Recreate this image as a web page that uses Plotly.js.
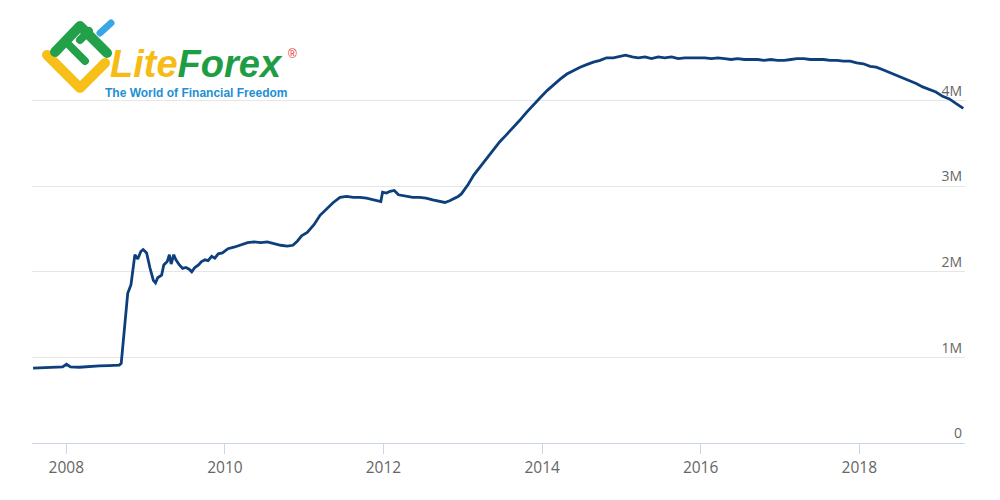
<!DOCTYPE html>
<html>
<head>
<meta charset="utf-8">
<script src="https://cdn.plot.ly/plotly-3.0.1.min.js"></script>
<style>html,body{margin:0;padding:0;background:#fff;}#chart{width:1000px;height:500px;}</style>
</head>
<body>
<div id="chart"></div>
<script>
// Federal Reserve total assets (M)
const dates = [
'2007-08-01','2007-09-15','2007-11-01','2007-12-15','2008-01-02','2008-01-20','2008-03-01','2008-04-15','2008-06-01','2008-07-15',
'2008-09-01','2008-09-10','2008-09-20','2008-10-01','2008-10-10','2008-10-25','2008-11-05','2008-11-12','2008-11-25','2008-12-10',
'2008-12-20','2009-01-05','2009-01-20','2009-02-05','2009-02-15','2009-02-25','2009-03-15','2009-03-25','2009-04-10','2009-04-20',
'2009-04-28','2009-05-10','2009-05-20','2009-06-05','2009-06-20','2009-07-05','2009-07-20','2009-08-01','2009-08-15','2009-09-01',
'2009-09-15','2009-10-01','2009-10-15','2009-11-01','2009-11-15','2009-12-01','2009-12-20','2010-01-15','2010-02-15','2010-03-15',
'2010-04-15','2010-05-15','2010-06-15','2010-07-15','2010-08-15','2010-09-15','2010-10-15','2010-11-10','2010-12-01','2010-12-20',
'2011-01-15','2011-02-15','2011-03-15','2011-04-15','2011-05-15','2011-06-15','2011-07-15','2011-08-15','2011-09-15','2011-10-15',
'2011-11-15','2011-12-05','2011-12-20','2011-12-28','2012-01-15','2012-02-01','2012-02-20','2012-03-10','2012-04-15','2012-05-15',
'2012-06-15','2012-07-15','2012-08-15','2012-09-15','2012-10-10','2012-11-01','2012-11-20','2012-12-10','2012-12-25','2013-01-25',
'2013-02-20','2013-03-25','2013-04-20','2013-05-20','2013-06-20','2013-07-20','2013-08-20','2013-09-20','2013-10-20','2013-11-20',
'2013-12-25','2014-01-25','2014-02-25','2014-03-25','2014-04-25','2014-05-25','2014-06-25','2014-07-25','2014-08-25','2014-09-25',
'2014-10-25','2014-11-25','2014-12-25','2015-01-20','2015-02-20','2015-03-20','2015-04-20','2015-05-20','2015-06-20','2015-07-20',
'2015-08-20','2015-09-20','2015-10-20','2015-11-20','2015-12-20','2016-01-20','2016-02-20','2016-03-20','2016-04-20','2016-05-20',
'2016-06-20','2016-07-20','2016-08-20','2016-09-20','2016-10-20','2016-11-20','2016-12-20','2017-01-20','2017-02-20','2017-03-20',
'2017-04-20','2017-05-20','2017-06-20','2017-07-20','2017-08-20','2017-09-20','2017-10-20','2017-11-20','2017-12-20','2018-01-20',
'2018-02-20','2018-03-20','2018-04-20','2018-05-20','2018-06-20','2018-07-20','2018-08-20','2018-09-20','2018-10-20','2018-11-20',
'2018-12-20','2019-01-20','2019-02-20','2019-03-20','2019-04-25'
];
const assets = [
0.875,0.88,0.89,0.89,0.92,0.89,0.885,0.895,0.90,0.905,
0.91,0.93,1.20,1.50,1.75,1.85,2.05,2.20,2.15,2.24,
2.26,2.22,2.05,1.90,1.87,1.93,1.96,2.08,2.12,2.20,
2.09,2.20,2.14,2.08,2.04,2.05,2.03,2.00,2.05,2.08,
2.12,2.14,2.13,2.18,2.16,2.21,2.22,2.27,2.29,2.31,
2.34,2.35,2.34,2.35,2.33,2.31,2.30,2.31,2.36,2.42,
2.46,2.55,2.66,2.74,2.81,2.87,2.88,2.87,2.87,2.86,
2.84,2.83,2.82,2.93,2.92,2.94,2.95,2.90,2.88,2.87,
2.87,2.86,2.84,2.82,2.81,2.83,2.85,2.88,2.91,3.02,
3.13,3.24,3.33,3.43,3.52,3.60,3.68,3.77,3.86,3.95,
4.04,4.12,4.19,4.25,4.31,4.35,4.39,4.42,4.45,4.47,
4.50,4.50,4.52,4.53,4.51,4.50,4.51,4.49,4.51,4.50,
4.51,4.49,4.50,4.50,4.50,4.50,4.49,4.50,4.49,4.48,
4.49,4.48,4.48,4.48,4.47,4.48,4.47,4.47,4.48,4.49,
4.49,4.48,4.48,4.48,4.47,4.47,4.46,4.46,4.44,4.43,
4.40,4.39,4.36,4.33,4.30,4.27,4.23,4.20,4.16,4.13,
4.10,4.05,4.02,3.97,3.91
];
const yTickVals = [0, 1, 2, 3, 4, 5];
const yTickText = ['0', '1M', '2M', '3M', '4M', ''];
const xRange = ['2007-07-27', '2019-05-03'];

// plot area in pixels (layout only)
const L = 32, R = 965, T = 15, B = 443;
const W = R - L, H = B - T;
const px = x => (x - L) / W;
const py = y => (B - y) / H;

const iconSvg = '<svg xmlns="http://www.w3.org/2000/svg" width="80" height="80" viewBox="40 15 80 80">' +
  '<g fill="none" stroke-linecap="round" stroke-linejoin="round">' +
  '<path d="M47 55 L80 88 L105 63" stroke="#f7bf1a" stroke-width="10"/>' +
  '<path d="M55 52 L80 26 L107 53" stroke="#22a04a" stroke-width="10"/>' +
  '<path d="M70 46 L85 61" stroke="#22a04a" stroke-width="8"/>' +
  '<path d="M80 40 L89 31" stroke="#22a04a" stroke-width="8"/>' +
  '<path d="M100 33 L111 23" stroke="#3aa6e6" stroke-width="7"/>' +
  '</g></svg>';
const iconSrc = 'data:image/svg+xml;charset=utf-8,' + encodeURIComponent(iconSvg);

const trace = {
  x: dates, y: assets, type: 'scatter', mode: 'lines',
  line: {color: '#0d3f7c', width: 2.8},
  hoverinfo: 'skip'
};

const layout = {
  width: 1000, height: 500,
  margin: {l: L, r: 1000 - R, t: T, b: 500 - B, pad: 0},
  paper_bgcolor: '#ffffff', plot_bgcolor: '#ffffff',
  showlegend: false,
  font: {family: 'Open Sans, sans-serif', color: '#666666'},
  xaxis: {
    type: 'date', range: xRange, tick0: '2008-01-01', dtick: 'M24', tickformat: '%Y',
    showgrid: false, zeroline: false,
    showline: true, linecolor: '#ccd6eb', linewidth: 1,
    ticks: 'outside', ticklen: 10, tickwidth: 1, tickcolor: '#ccd6eb',
    tickfont: {size: 15.5, color: '#666666', family: 'Open Sans, sans-serif'},
    fixedrange: true
  },
  yaxis: {
    range: [0, 5], side: 'right', tickmode: 'array', tickvals: yTickVals, ticktext: yTickText,
    ticklabelposition: 'inside top', ticks: '',
    showgrid: true, gridcolor: '#e6e6e6', gridwidth: 1,
    zeroline: false, showline: false,
    tickfont: {size: 14, color: '#666666', family: 'Open Sans, sans-serif'},
    fixedrange: true
  },
  images: [{
    source: iconSrc, xref: 'paper', yref: 'paper',
    x: px(40), y: py(15), sizex: 80 / W, sizey: 80 / H,
    sizing: 'stretch', xanchor: 'left', yanchor: 'top', layer: 'above'
  }],
  annotations: [
    {xref: 'paper', yref: 'paper', x: px(108), y: py(64), xanchor: 'left', yanchor: 'middle', showarrow: false,
     text: '<b><i><span style="color:#f7bb16">Lite</span><span style="color:#1f9d45">Forex</span></i></b>',
     font: {family: 'Liberation Sans, Arial, sans-serif', size: 38}},
    {xref: 'paper', yref: 'paper', x: px(292), y: py(54), xanchor: 'center', yanchor: 'middle', showarrow: false,
     text: '®', font: {family: 'Liberation Sans, Arial, sans-serif', size: 12, color: '#e5312f'}},
    {xref: 'paper', yref: 'paper', x: px(103), y: py(93), xanchor: 'left', yanchor: 'middle', showarrow: false,
     text: '<b>The World of Financial Freedom</b>',
     font: {family: 'Liberation Sans, Arial, sans-serif', size: 12, color: '#1e8fd5'}}
  ]
};

Plotly.newPlot('chart', [trace], layout, {displayModeBar: false, staticPlot: true});
</script>
</body>
</html>
